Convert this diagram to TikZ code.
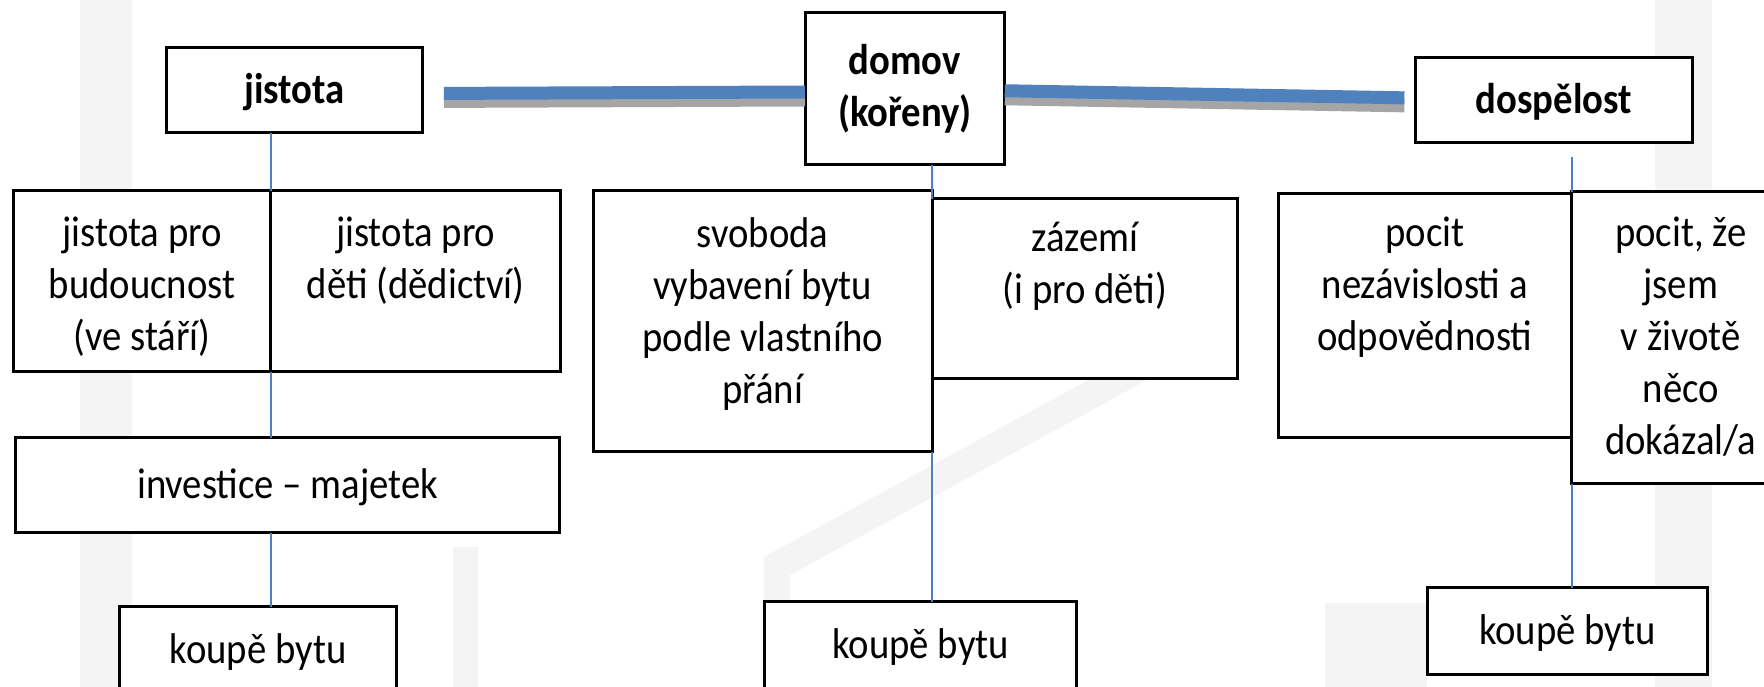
\documentclass[tikz,border=0pt]{standalone}
\usepackage{fontspec}
\setmainfont{Carlito}[FakeStretch=0.9]
\definecolor{linkblue}{HTML}{4F81BD}
\definecolor{barblue}{HTML}{4F81BD}
\definecolor{bargray}{HTML}{A5A5A5}
\definecolor{wallgray}{HTML}{F4F4F4}
\newcommand{\boxfont}{\fontsize{12.24}{14.8}\selectfont}
\tikzset{
  box/.style={draw, line width=0.3mm, fill=white, inner sep=0pt, outer sep=0pt, font=\boxfont},
  onebox/.style={box, text height=3.2mm, text depth=0.6mm},
  headbox/.style={onebox, font=\boxfont\bfseries},
  txt/.style={align=center, inner sep=0pt, anchor=north, font=\boxfont,
    execute at begin node={\rule{0pt}{3.64mm}}},
  link/.style={linkblue, line width=0.2mm},
  bar/.style={barblue, line width=1.3mm},
  barshade/.style={bargray, line width=1.3mm, transform canvas={yshift=-0.8mm}}
}
\begin{document}
\begin{tikzpicture}[x=0.1mm,y=-0.1mm]
\useasboundingbox (0,0) rectangle (1764,687);
\clip (0,0) rectangle (1764,687);
\fill[white] (0,0) rectangle (1764,687);

% faint background picture
\fill[wallgray] (80,0) rectangle (132,687);
\fill[wallgray] (453,547) rectangle (478,687);
\fill[wallgray] (1325,603) rectangle (1427,687);
\fill[wallgray] (1655,0) rectangle (1712,687);
\fill[wallgray] (764,687) -- (764,557) -- (1180,330) -- (1180,362) -- (790,575) -- (790,687) -- cycle;

% top row
\node[headbox, minimum width=25.64mm, minimum height=8.5mm] (jistota) at (294.7,90.5) {jistota};
\node[box, font=\boxfont\bfseries, align=center, minimum width=19.98mm, minimum height=15.2mm] (domov) at (904.9,89) {domov\\(kořeny)};
\node[headbox, minimum width=27.66mm, minimum height=8.5mm] (dospelost) at (1553.7,100.5) {dospělost};

\draw[barshade, shorten <=2.1mm] ([yshift=-0.3mm]jistota.east) -- ([yshift=-0.3mm]domov.west);
\draw[bar, shorten <=2.1mm] ([yshift=-0.3mm]jistota.east) -- ([yshift=-0.3mm]domov.west);
\draw[barshade, shorten >=1.1mm] (domov) -- (dospelost);
\draw[bar, shorten >=1.1mm] (domov) -- (dospelost);

% jistota
\node[box, minimum width=25.75mm, minimum height=18.1mm] (budoucnost) at (142.2,281.5) {};
\node[box, minimum width=28.97mm, minimum height=18.1mm] (dedictvi) at (415.8,281.5) {};
\node[txt] (tbudoucnost) at (142.2,216.6) {jistota pro\\budoucnost\\(ve stáří)};
\node[txt] (tdedictvi) at (415.8,216.6) {jistota pro\\děti (dědictví)};
\node[onebox, minimum width=54.45mm, minimum height=9.5mm] (investice) at (287.6,485.5) {investice – majetek};
\node[onebox, minimum width=27.74mm, minimum height=8.7mm] (koupeA) at (258.1,650.5) {koupě bytu};

\draw[link] (budoucnost.north east) -- (budoucnost.north east |- jistota.south);
\draw[link] (budoucnost.south east) -- (budoucnost.south east |- investice.north);
\draw[link] (investice.south -| budoucnost.east) -- (budoucnost.east |- koupeA.north);

% domov
\node[box, minimum width=33.86mm, minimum height=26.1mm] (svoboda) at (762.7,321.5) {};
\node[box, minimum width=30.59mm, minimum height=18mm] (zazemi) at (1085,289) {};
\node[txt] (tsvoboda) at (762.7,216.6) {svoboda\\vybavení bytu\\podle vlastního\\přání};
\node[txt] (tzazemi) at (1085,221.6) {zázemí\\(i pro děti)};
\node[onebox, minimum width=31.19mm, minimum height=8.7mm] (koupeB) at (920.8,645.5) {koupě bytu};

\draw[link] (svoboda.north east |- domov.south) -- (zazemi.north west);
\draw[link] (svoboda.south east) -- (svoboda.south east |- koupeB.north);

% dospelost
\node[box, minimum width=29.35mm, minimum height=24.4mm] (nezavislost) at (1424.8,316) {};
\node[box, minimum width=21.85mm, minimum height=29.2mm] (dokazal) at (1680.8,338) {};
\node[txt] (tnezavislost) at (1424.8,216.6) {pocit\\nezávislosti a\\odpovědnosti};
\node[txt] (tdokazal) at (1680.8,216.6) {pocit, že\\jsem\\v životě\\něco\\dokázal/a};
\node[onebox, minimum width=28.01mm, minimum height=8.7mm] (koupeC) at (1567.4,631.5) {koupě bytu};

\draw[link, shorten <=1.4mm] (dokazal.north west |- dospelost.south) -- (dokazal.north west);
\draw[link] (dokazal.south west) -- (dokazal.south west |- koupeC.north);

\end{tikzpicture}
\end{document}
